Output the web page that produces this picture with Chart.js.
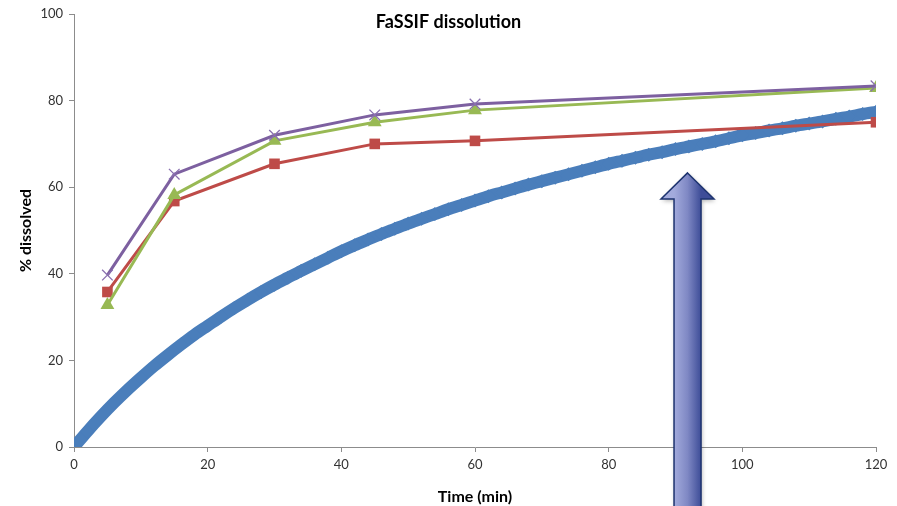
<!DOCTYPE html>
<html>
<head>
<meta charset="utf-8">
<script src="https://cdn.jsdelivr.net/npm/chart.js@4.4.0/dist/chart.umd.min.js"></script>
<style>
  html, body { margin: 0; padding: 0; background: #fff; }
  #wrap { width: 897px; height: 506px; }
</style>
</head>
<body>
<div id="wrap"><canvas id="myChart1" width="897" height="506"></canvas></div>
<script>
// sampled times (min) -- the blue trace is a dense curve, read every 2 min
var curveTimes = [0,2,4,6,8,10,12,14,16,18,20,22,24,26,28,30,32,34,36,38,40,42,44,46,48,50,52,54,56,58,60,
  62,64,66,68,70,72,74,76,78,80,82,84,86,88,90,92,94,96,98,100,102,104,106,108,110,112,114,116,118,120];
var curveValues = [0,3.6,7.0,10.2,13.2,16.0,18.7,21.2,23.6,25.9,28.0,30.1,32.1,34.0,35.8,37.5,39.1,40.7,42.2,43.7,45.2,
  46.6,47.9,49.2,50.4,51.6,52.7,53.8,54.9,55.9,56.9,57.9,58.8,59.7,60.6,61.4,62.2,63.0,63.8,64.6,65.4,
  66.1,66.8,67.5,68.1,68.8,69.4,70.0,70.6,71.3,72.0,72.5,73.1,73.6,74.2,74.7,75.2,75.8,76.3,76.9,77.4];

// measured time points
var sampleTimes = [5, 15, 30, 45, 60, 120];
var redValues = [35.8, 56.8, 65.4, 70.0, 70.7, 75.0];
var greenValues = [32.8, 58.2, 70.7, 75.0, 77.8, 82.9];
var purpleValues = [39.7, 63.0, 72.0, 76.7, 79.2, 83.4];

var xTicks = [0, 20, 40, 60, 80, 100, 120];
var yTicks = [0, 20, 40, 60, 80, 100];

var chartTitle = "FaSSIF dissolution";
var xTitle = "Time (min)";
var yTitle = "% dissolved";

function pts(xs, ys) {
  var out = [];
  for (var i = 0; i < xs.length; i++) out.push({x: xs[i], y: ys[i]});
  return out;
}

var FONT = "Lato, 'Open Sans', sans-serif";

// title sits inside the plot area, centred on the canvas
var titlePlugin = {
  id: 'titleText',
  afterDraw: function(chart) {
    var ctx = chart.ctx;
    ctx.save();
    ctx.font = "bold 18px " + FONT;
    ctx.fillStyle = "#000";
    ctx.textAlign = "center";
    ctx.textBaseline = "middle";
    ctx.fillText(chartTitle, chart.width / 2, 22);
    ctx.restore();
  }
};

// the big upward arrow drawn over the chart
var arrowPlugin = {
  id: 'arrow',
  afterDraw: function(chart) {
    var ctx = chart.ctx;
    var xs = chart.scales.x, ys = chart.scales.y;
    var cx = xs.getPixelForValue(91.8);
    var tip = ys.getPixelForValue(63.3);
    var headBase = tip + 26;
    var bottom = chart.height + 5;
    var shaftW = 13.5, headW = 26.5;
    ctx.save();
    ctx.shadowColor = "rgba(0,0,0,0.3)";
    ctx.shadowBlur = 4;
    ctx.shadowOffsetX = 1;
    ctx.shadowOffsetY = 2;
    var g = ctx.createLinearGradient(cx - shaftW, 0, cx + shaftW, 0);
    g.addColorStop(0, "#a3abdc");
    g.addColorStop(0.5, "#7f88c4");
    g.addColorStop(1, "#3e4d98");
    ctx.beginPath();
    ctx.moveTo(cx, tip);
    ctx.lineTo(cx + headW, headBase);
    ctx.lineTo(cx + shaftW, headBase);
    ctx.lineTo(cx + shaftW, bottom);
    ctx.lineTo(cx - shaftW, bottom);
    ctx.lineTo(cx - shaftW, headBase);
    ctx.lineTo(cx - headW, headBase);
    ctx.closePath();
    ctx.fillStyle = g;
    ctx.fill();
    ctx.shadowColor = "transparent";
    ctx.lineWidth = 1.5;
    ctx.strokeStyle = "#1d336f";
    ctx.stroke();
    ctx.restore();
  }
};

var chart = new Chart("myChart1", {
  type: "scatter",
  data: {
    datasets: [
      {
        label: 'Model',
        data: pts(curveTimes, curveValues),
        showLine: true,
        borderColor: '#4a7ebb',
        backgroundColor: '#4a7ebb',
        borderWidth: 12,
        pointStyle: 'rectRot',
        pointRadius: 7,
        pointBorderWidth: 0,
        tension: 0.3,
        order: 4
      },
      {
        label: 'Red',
        data: pts(sampleTimes, redValues),
        showLine: true,
        borderColor: '#be4b48',
        backgroundColor: '#be4b48',
        borderWidth: 3,
        pointStyle: 'rect',
        pointRadius: 7.5,
        pointBorderWidth: 0,
        order: 3
      },
      {
        label: 'Green',
        data: pts(sampleTimes, greenValues),
        showLine: true,
        borderColor: '#98b954',
        backgroundColor: '#98b954',
        borderWidth: 3,
        pointStyle: 'triangle',
        pointRadius: 8,
        pointBorderWidth: 0,
        order: 2
      },
      {
        label: 'Purple',
        data: pts(sampleTimes, purpleValues),
        showLine: true,
        borderColor: '#7d60a0',
        backgroundColor: '#7d60a0',
        borderWidth: 3,
        pointStyle: 'crossRot',
        pointRadius: 7.5,
        pointBorderWidth: 1.3,
        pointBorderColor: '#8a70b0',
        order: 1
      }
    ]
  },
  options: {
    responsive: false,
    animation: false,
    layout: { padding: { left: 0, right: 21, top: 14, bottom: 0 } },
    plugins: {
      legend: { display: false },
      tooltip: { enabled: false },
      title: { display: false }
    },
    scales: {
      x: {
        type: 'linear',
        min: 0, max: 120,
        afterBuildTicks: function(s) { s.ticks = xTicks.map(function(v) { return {value: v}; }); },
        afterFit: function(s) { s.height = 59; },
        border: { display: true, color: '#8c8c8c', width: 1 },
        grid: { drawOnChartArea: false, drawTicks: true, tickLength: 5, color: '#8c8c8c' },
        ticks: { color: '#333', font: { family: FONT, size: 13 }, padding: 5, maxRotation: 0 },
        title: { display: true, text: xTitle, color: '#000', font: { family: FONT, size: 16, weight: 'bold' }, padding: { top: 2, bottom: 0 } }
      },
      y: {
        min: 0, max: 100,
        afterBuildTicks: function(s) { s.ticks = yTicks.map(function(v) { return {value: v}; }); },
        afterFit: function(s) { s.width = 74; },
        border: { display: true, color: '#8c8c8c', width: 1 },
        grid: { drawOnChartArea: false, drawTicks: true, tickLength: 5, color: '#8c8c8c' },
        ticks: { color: '#333', font: { family: FONT, size: 13 }, padding: 6 },
        title: { display: true, text: yTitle, color: '#000', font: { family: FONT, size: 16, weight: 'bold' }, padding: { top: 16, bottom: 0 } }
      }
    }
  },
  plugins: [titlePlugin, arrowPlugin]
});
</script>
</body>
</html>
